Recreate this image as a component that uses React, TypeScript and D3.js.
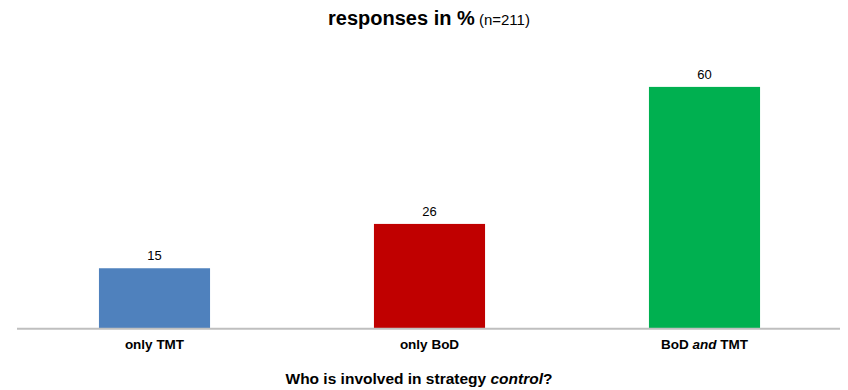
import React from "react";
import * as d3 from "d3";

const categories = ["only TMT", "only BoD", "BoD and TMT"];
const values = [15, 26, 60];
const colors = ["#4F81BD", "#C00000", "#00B050"];

const W = 848;
const H = 390;
const FONT = "'Liberation Sans', Arial, sans-serif";

export default function App() {
  const x = d3.scaleBand<string>().domain(categories).range([17, 842]).paddingInner(0.596).paddingOuter(0.298);
  const y = d3.scaleLinear().domain([0, 70]).range([328.7, 46.6]);
  return (
    <svg width={W} height={H} style={{ position: "absolute", left: 0, top: 0 }} fontFamily={FONT}>
      <rect width={W} height={H} fill="#fff" />
      <text x={429} y={25} textAnchor="middle" fill="#000">
        <tspan fontSize={20} fontWeight="bold">responses in %</tspan>
        <tspan fontSize={15}> (n=211)</tspan>
      </text>
      {categories.map((c, i) => (
        <g key={c}>
          <rect x={x(c)} y={y(values[i])} width={x.bandwidth()} height={y(0) - y(values[i])} fill={colors[i]} />
          <text x={(x(c) as number) + x.bandwidth() / 2} y={y(values[i]) - 8} textAnchor="middle" fontSize={13} fill="#000">
            {values[i]}
          </text>
          <text x={(x(c) as number) + x.bandwidth() / 2} y={349} textAnchor="middle" fontSize={13.5} fontWeight="bold" fill="#000">
            {c === "BoD and TMT" ? (
              <>
                <tspan>BoD </tspan>
                <tspan fontStyle="italic">and</tspan>
                <tspan> TMT</tspan>
              </>
            ) : (
              c
            )}
          </text>
        </g>
      ))}
      <line x1={17} x2={840} y1={y(0)} y2={y(0)} stroke="#BFBFBF" strokeWidth={2} />
      <text x={419} y={384} textAnchor="middle" fontSize={15.5} fontWeight="bold" fill="#000">
        <tspan>Who is involved in strategy </tspan>
        <tspan fontStyle="italic">control</tspan>
        <tspan>?</tspan>
      </text>
    </svg>
  );
}
